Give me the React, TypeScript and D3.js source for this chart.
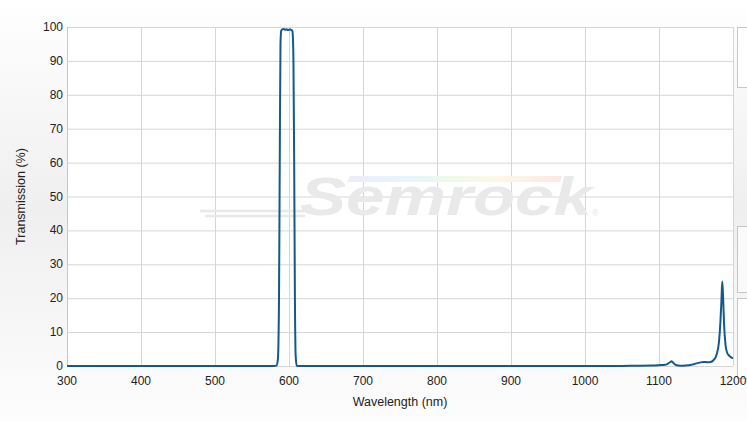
import React from "react";
import * as d3 from "d3";

const wavelengths = [300, 400, 500, 560, 575, 580, 583, 585, 586.5, 587.5, 588.5, 589.5, 591, 593, 595, 597, 598.5, 600, 601.5, 603, 604.5, 605.3, 606, 607, 608, 609, 610.5, 615, 640, 700, 800, 900, 1000, 1050, 1070, 1090, 1100, 1108, 1112, 1115, 1117, 1119, 1122, 1126, 1132, 1140, 1148, 1155, 1160, 1165, 1170, 1174, 1178, 1181, 1183, 1184.5, 1185.5, 1186.5, 1188, 1190, 1192, 1195, 1198, 1200];
const transmission = [0, 0, 0, 0, 0, 0, 0.1, 2, 20, 60, 95, 98.9, 99.3, 99.4, 99.2, 99.3, 99.1, 99.2, 99.3, 99.1, 99.0, 97, 90, 60, 20, 3, 0.1, 0, 0, 0, 0, 0, 0, 0.03, 0.08, 0.15, 0.25, 0.35, 0.7, 1.1, 1.4, 1.0, 0.4, 0.15, 0.1, 0.2, 0.6, 1.0, 1.2, 1.1, 1.2, 1.8, 3.5, 7, 13, 20, 24.9, 21, 12, 6, 4, 3, 2.5, 2.2];
const xTicks = [300, 400, 500, 600, 700, 800, 900, 1000, 1100, 1200];
const yTicks = [0, 10, 20, 30, 40, 50, 60, 70, 80, 90, 100];

export default function App() {
  const W = 747, H = 421;
  const left = 67, right = 733, top = 27, bottom = 366;
  const x = d3.scaleLinear().domain([300, 1200]).range([left, right]);
  const y = d3.scaleLinear().domain([0, 100]).range([bottom, top]);
  const pts = wavelengths.map((w, i) => [w, transmission[i]] as [number, number]);
  const line = d3.line<[number, number]>().x(d => x(d[0])).y(d => y(d[1])).curve(d3.curveMonotoneX);
  const font = "'Liberation Sans', Arial, sans-serif";
  return (
    <svg width={W} height={H} style={{ position: "absolute", left: 0, top: 0 }} fontFamily={font}>
      <defs>
        <linearGradient id="bg" x1="0" y1="0" x2="0" y2="1">
          <stop offset="0" stopColor="#ffffff" />
          <stop offset="0.5" stopColor="#efefef" />
          <stop offset="1" stopColor="#fdfdfd" />
        </linearGradient>
        <linearGradient id="rainbow" x1="0" y1="0" x2="1" y2="0">
          <stop offset="0" stopColor="#ececfa" />
          <stop offset="0.3" stopColor="#e8f5fb" />
          <stop offset="0.5" stopColor="#eff9e8" />
          <stop offset="0.7" stopColor="#fcf8e6" />
          <stop offset="1" stopColor="#fce8e8" />
        </linearGradient>
      </defs>
      <rect x={0} y={0} width={W} height={H} fill="url(#bg)" />
      <rect x={left} y={top} width={right - left} height={bottom - top} fill="#ffffff" />
      {/* right side panels */}
      <rect x={737.5} y={27.5} width={20} height={60} fill="#ffffff" stroke="#c6c6c6" />
      <rect x={737.5} y={226.5} width={20} height={66} fill="#fafafa" stroke="#c6c6c6" />
      <rect x={737.5} y={298.5} width={20} height={80} fill="#ffffff" stroke="#c6c6c6" />
      {/* grid */}
      {yTicks.map(t => (
        <line key={"gy" + t} x1={left} x2={right} y1={y(t) + 0.5} y2={y(t) + 0.5} stroke="#d6d6d6" strokeWidth={1} />
      ))}
      {xTicks.map(t => (
        <line key={"gx" + t} x1={Math.round(x(t)) + 0.5} x2={Math.round(x(t)) + 0.5} y1={top} y2={bottom} stroke="#d6d6d6" strokeWidth={1} />
      ))}
      {/* watermark */}
      <g>
        <polygon points="350,176 562,176 560,182 347,182" fill="url(#rainbow)" />
        <line x1={200} x2={310} y1={211} y2={211} stroke="#e8e8e8" strokeWidth={2.5} />
        <line x1={205} x2={305} y1={216} y2={216} stroke="#e8e8e8" strokeWidth={2.5} />
        <text x={300} y={215} fontSize={54} fontWeight="bold" fontStyle="italic" fill="#e9e9e9" textLength={292} lengthAdjust="spacingAndGlyphs">Semrock</text>
        <text x={592} y={216} fontSize={9} fill="#e4e4e4">®</text>
      </g>
      {/* axis line */}
      <line x1={left + 0.5} x2={left + 0.5} y1={top} y2={bottom} stroke="#c8c8c8" />
      {/* curve */}
      <path d={line(pts) || ""} fill="none" stroke="#14598a" strokeWidth={2} strokeLinejoin="round" />
      {/* tick labels */}
      {yTicks.map(t => (
        <text key={"ty" + t} x={63} y={y(t) + 4} fontSize={12} fill="#222" textAnchor="end">{t}</text>
      ))}
      {xTicks.map(t => (
        <text key={"tx" + t} x={x(t)} y={385} fontSize={12} fill="#222" textAnchor="middle">{t}</text>
      ))}
      <text x={400} y={406} fontSize={12.5} fill="#222" textAnchor="middle">Wavelength (nm)</text>
      <text transform={`translate(25,${(top + bottom) / 2}) rotate(-90)`} fontSize={12.5} fill="#222" textAnchor="middle">Transmission (%)</text>
    </svg>
  );
}
